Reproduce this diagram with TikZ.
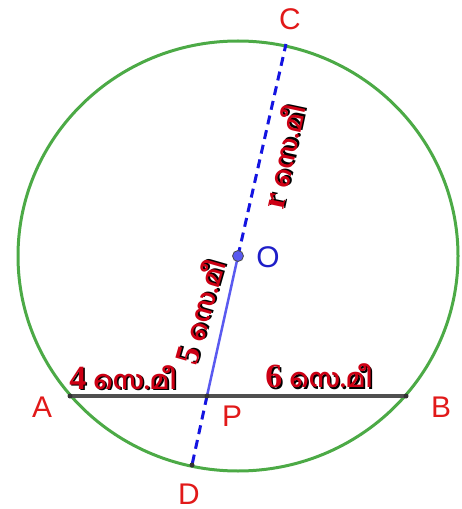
\documentclass[tikz,border=0pt]{standalone}
\usepackage{fontspec}
\setmainfont{Liberation Serif}
\newfontfamily\malfont[Script=Malayalam]{Hind Kochi}
\newfontfamily\labfont{Liberation Sans}
\definecolor{cgreen}{RGB}{76,170,70}
\definecolor{cblue}{RGB}{20,20,225}
\definecolor{lblue}{RGB}{90,90,240}
\definecolor{cred}{RGB}{225,25,25}
\definecolor{tred}{RGB}{205,0,20}
\definecolor{oblue}{RGB}{30,30,200}
\definecolor{cgray}{RGB}{80,80,80}
\newcommand{\mtext}[2]{{\fontsize{34}{35}\selectfont\bfseries #1}\hspace{7bp}{\malfont\fontsize{25.5}{26}\selectfont\bfseries #2}}
\newcommand{\shadowed}[1]{\leavevmode\rlap{\kern1.6bp\raisebox{-1.6bp}{\color{black}#1}}{\color{tred}#1}}
\begin{document}
\begin{tikzpicture}[x=1bp,y=-1bp,
  circ/.style={draw=cgreen,line width=3bp},
  chord/.style={draw=cgray,line width=3.5bp},
  dashline/.style={draw=cblue,line width=3bp,dash pattern=on 9bp off 6bp},
  radline/.style={draw=lblue,line width=2.5bp},
  dot/.style={circle,fill=black!80,inner sep=0pt,minimum size=5bp},
  odot/.style={circle,fill=lblue,draw=black!70,line width=0.8bp,inner sep=0pt,minimum size=11bp},
  ptlab/.style={font=\labfont\fontsize{30}{31}\selectfont,text=cred,inner sep=0pt,text height=21.5bp,text depth=0pt},
  mlab/.style={inner sep=0pt}]
\useasboundingbox (0,0) rectangle (462,509);
\coordinate (O) at (238,256);
\coordinate (A) at (70,396);
\coordinate (B) at (406,396);
\coordinate (P) at (207,396);
\coordinate (C) at (286,44);
\coordinate (D) at (192,465);
\draw[circ] (O) ellipse[x radius=220,y radius=215];
\draw[chord] (A) -- (B);
\draw[dashline] (O) -- (C);
\draw[dashline] (P) -- (D);
\draw[radline] (O) -- (P);
\node[dot] (dA) at (A) {};
\node[dot] (dB) at (B) {};
\node[dot] (dP) at (P) {};
\node[dot] (dD) at (D) {};
\node[odot] (dO) at (O) {};
\node[ptlab] (lC) at (290,19) {C};
\node[ptlab,text=oblue] (lO) at (268,257) {O};
\node[ptlab] (lA) at (42,407) {A};
\node[ptlab] (lB) at (441,407) {B};
\node[ptlab] (lP) at (232,416) {P};
\node[ptlab] (lD) at (189,494) {D};
\node[mlab] (t4) at (123,378) {\shadowed{\mtext{4}{സെ.മീ}}};
\node[mlab] (t6) at (319,377) {\shadowed{\mtext{6}{സെ.മീ}}};
\node[mlab,rotate=74] (t5) at (201,312) {\shadowed{\mtext{5}{സെ.മീ}}};
\node[mlab,rotate=78] (tr) at (284,157) {\shadowed{\mtext{r}{സെ.മീ}}};
\end{tikzpicture}
\end{document}
